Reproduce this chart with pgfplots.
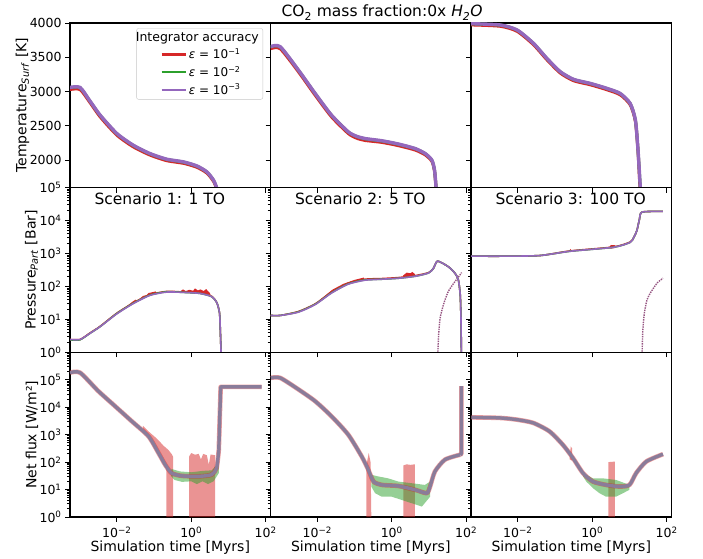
\documentclass[border=0pt]{standalone}
\usepackage{fontspec}
\setmainfont{DejaVu Sans}
\usepackage{pgfplots}
\pgfplotsset{compat=1.18}

\definecolor{tred}{HTML}{D62728}
\definecolor{tgreen}{HTML}{2CA02C}
\definecolor{tpurple}{HTML}{9467BD}
\definecolor{fluxline}{RGB}{138,124,154}
\definecolor{dotc}{RGB}{150,85,130}

% minor ticks of the log rows (data are given as log10 values)
\def\mlg#1{#1.301,#1.477,#1.602,#1.699,#1.778,#1.845,#1.903,#1.954}
\edef\minorlog{\mlg0,\mlg1,\mlg2,\mlg3,\mlg4,\mlg5}
\newcommand\tp[1]{10\textsuperscript{#1}}

\tikzset{scen/.style={anchor=base west, font=\fontsize{15.5}{18}\selectfont}}

\pgfplotsset{
  panel/.style={scale only axis, width=200.5pt, height=164.667pt, anchor=south west,
    xmin=-3.26, xmax=2.13, xtick={-2,0,2}, xticklabels={},
    tick pos=left, tick align=outside,
    major tick length=4.9pt, minor tick length=2.8pt,
    axis line style={line width=1.1pt, black},
    tick style={black, line width=0.9pt},
    ticklabel style={font=\fontsize{12.5}{14}\selectfont},
    xticklabel style={inner sep=1pt, yshift=-3.5pt},
    every axis x label/.style={at={(axis description cs:0.5,-0.183)}, anchor=center,
      inner sep=1pt, font=\fontsize{14}{16}\selectfont}},
  ylab/.style={every axis y label/.style={at={(axis description cs:#1,0.5)}, rotate=90,
      anchor=center, font=\fontsize{14}{16}\selectfont}},
  toprow/.style={ymin=1600, ymax=4000, ytick={2000,2500,3000,3500,4000}, yticklabels={}},
  logrow/.style={ymin=0, ymax=#1, ytick={0,...,#1}, minor ytick/.expanded={\minorlog}, yticklabels={}},
  botrow/.style={xticklabels={\tp{−2},\tp{0},\tp{2}}, xlabel={Simulation time [Myrs]}},
  tl/.style={line width=3pt, smooth, tension=0.4},
  pl/.style={line width=1.6pt, smooth, tension=0.4},
  redband/.style={draw=none, fill=tred, fill opacity=0.5, forget plot},
  greenband/.style={draw=none, fill=tgreen, fill opacity=0.5, forget plot},
  noise/.style={draw=none, fill=tred, forget plot},
  fluxr/.style={tred, opacity=0.45, line width=4.6pt, forget plot, line join=round},
  fluxm/.style={fluxline, line width=3.4pt, forget plot, line join=round},
  dots/.style={dotc, densely dotted, line width=1.4pt, smooth, tension=0.4, forget plot}
}

\begin{document}
\begin{tikzpicture}
\path[use as bounding box] (0pt,0pt) rectangle (703pt,558pt);

\node[anchor=base, font=\fontsize{15.5}{18}\selectfont] at (382pt,541pt)
  {CO\textsubscript{2} mass fraction:0x \textit{H\textsubscript{2}O}};

% ---------------- row 1: surface temperature ----------------
\begin{axis}[panel, toprow, at={(70pt,370.333pt)}, ylab=-0.237,
  yticklabels={2000,2500,3000,3500,4000},
  ylabel={Temperature\textsubscript{\textit{Surf}} [K]},
  legend style={at={(axis description cs:0.331,0.968)}, anchor=north west,
    draw=black!22, rounded corners=2pt, fill=white,
    font=\fontsize{12}{13.5}\selectfont, inner xsep=2pt, inner ysep=1.5pt, row sep=2pt},
  legend cell align=left,
  legend image code/.code={\draw[#1, line width=2.5pt] (23pt,0pt) -- (47pt,0pt);}]
\addlegendimage{empty legend}
\addlegendentry{\hspace{-53pt}\fontsize{12.5}{14}\selectfont Integrator accuracy}
\addplot[tred, tl] coordinates {(-3.26,3030)(-2.99,3030)(-2.72,2838)(-2.45,2632)(-2.0,2365)
  (-1.56,2195)(-1.11,2075)(-0.66,1993)(-0.21,1955)(0.15,1897)(0.42,1812)(0.6,1690)(0.69,1570)(0.71,1500)};
\addlegendentry{\textit{ε} = \tp{−1}}
\addplot[tgreen, tl] coordinates {(-3.26,3058)(-2.99,3058)(-2.72,2858)(-2.45,2654)(-2.0,2386)
  (-1.56,2216)(-1.11,2094)(-0.66,2012)(-0.21,1973)(0.15,1914)(0.42,1828)(0.6,1706)(0.69,1585)(0.72,1500)};
\addlegendentry{\textit{ε} = \tp{−2}}
\addplot[tpurple, tl, line width=3.4pt] coordinates {(-3.26,3061)(-2.99,3061)(-2.72,2861)(-2.45,2657)(-2.0,2389)
  (-1.56,2219)(-1.11,2097)(-0.66,2015)(-0.21,1976)(0.15,1917)(0.42,1830)(0.6,1708)(0.69,1586)(0.72,1500)};
\addlegendentry{\textit{ε} = \tp{−3}}
\end{axis}

\begin{axis}[panel, toprow, at={(270.5pt,370.333pt)}]
\addplot[tred, tl] coordinates {(-3.26,3625)(-3.0,3625)(-2.51,3289)(-2.06,2948)(-1.62,2632)(-1.17,2390)
  (-0.95,2322)(-0.72,2288)(-0.27,2260)(0.18,2212)(0.63,2148)(0.90,2077)(1.08,1982)(1.15,1836)(1.19,1600)(1.2,1500)};
\addplot[tgreen, tl] coordinates {(-3.26,3652)(-3.0,3652)(-2.51,3312)(-2.06,2971)(-1.62,2655)(-1.17,2412)
  (-0.95,2347)(-0.72,2312)(-0.27,2280)(0.18,2232)(0.63,2168)(0.90,2095)(1.08,1998)(1.15,1852)(1.19,1610)(1.21,1500)};
\addplot[tpurple, tl, line width=3.4pt] coordinates {(-3.26,3655)(-3.0,3655)(-2.51,3314)(-2.06,2973)(-1.62,2657)(-1.17,2414)
  (-0.95,2350)(-0.72,2316)(-0.27,2284)(0.18,2236)(0.63,2170)(0.90,2097)(1.08,2000)(1.15,1854)(1.19,1611)(1.21,1500)};
\end{axis}

\begin{axis}[panel, toprow, at={(471pt,370.333pt)}]
\addplot[tred, tl] coordinates {(-3.26,3972)(-2.47,3952)(-2.02,3878)(-1.58,3683)(-1.22,3464)(-0.86,3270)
  (-0.50,3158)(-0.05,3099)(0.40,3026)(0.75,2953)(1.02,2807)(1.16,2564)(1.23,2126)(1.28,1611)(1.29,1500)};
\addplot[tgreen, tl] coordinates {(-3.26,3988)(-2.47,3969)(-2.02,3896)(-1.58,3701)(-1.22,3482)(-0.86,3288)
  (-0.50,3176)(-0.05,3117)(0.40,3044)(0.75,2971)(1.02,2825)(1.16,2582)(1.23,2144)(1.29,1611)(1.30,1500)};
\addplot[tpurple, tl, line width=3.4pt] coordinates {(-3.26,3990)(-2.47,3971)(-2.02,3898)(-1.58,3703)(-1.22,3484)(-0.86,3290)
  (-0.50,3178)(-0.05,3119)(0.40,3046)(0.75,2973)(1.02,2827)(1.16,2584)(1.23,2146)(1.29,1611)(1.30,1500)};
\end{axis}

% ---------------- row 2: partial pressure ----------------
\begin{axis}[panel, logrow=5, at={(70pt,205.667pt)}, ylab=-0.192,
  yticklabels={\tp{0},\tp{1},\tp{2},\tp{3},\tp{4},\tp{5}},
  ylabel={Pressure\textsubscript{\textit{Part}} [Bar]}]
\node[scen] at (rel axis cs:0.105,0.895) {Scenario 1: 1 TO};
\addplot[tred, pl] coordinates {(-3.26,0.39)(-2.99,0.39)(-2.72,0.59)(-2.45,0.79)(-2.0,1.19)(-1.56,1.5)(-1.11,1.75)
  (-0.66,1.85)(-0.21,1.83)(0.23,1.80)(0.55,1.70)(0.69,1.5)(0.76,1.19)(0.78,0.69)(0.80,0)(0.80,-0.5)};
\addplot[noise] coordinates {(-1.75,1.38)(-1.6,1.52)(-1.5,1.6)(-1.45,1.57)(-1.3,1.71)(-1.2,1.74)(-1.15,1.8)(-0.95,1.85)
  (-0.95,1.79)(-1.15,1.73)(-1.3,1.64)(-1.45,1.56)(-1.6,1.47)(-1.75,1.35)} -- cycle;
\addplot[noise] coordinates {(-0.3,1.85)(-0.22,1.91)(-0.15,1.86)(-0.05,1.9)(0.05,1.87)(0.1,1.94)(0.18,1.88)
  (0.25,1.91)(0.33,1.86)(0.4,1.92)(0.5,1.8)
  (0.52,1.74)(0.4,1.77)(0.2,1.8)(0,1.82)(-0.3,1.82)} -- cycle;
\addplot[tgreen, pl] coordinates {(-3.26,0.38)(-2.99,0.38)(-2.72,0.58)(-2.45,0.78)(-2.0,1.18)(-1.56,1.49)(-1.11,1.74)
  (-0.66,1.84)(-0.21,1.82)(0.23,1.79)(0.55,1.69)(0.69,1.5)(0.76,1.19)(0.78,0.69)(0.80,0)(0.80,-0.5)};
\addplot[tpurple, pl] coordinates {(-3.26,0.39)(-2.99,0.39)(-2.72,0.58)(-2.45,0.78)(-2.0,1.17)(-1.56,1.48)(-1.11,1.73)
  (-0.66,1.83)(-0.21,1.82)(0.23,1.79)(0.55,1.69)(0.69,1.5)(0.76,1.19)(0.78,0.69)(0.80,0)(0.80,-0.5)};
\end{axis}

\begin{axis}[panel, logrow=5, at={(270.5pt,205.667pt)}]
\node[scen] at (rel axis cs:0.105,0.895) {Scenario 2: 5 TO};
\addplot[dots] coordinates {(1.24,-0.2)(1.24,0)(1.26,0.54)(1.30,1.04)(1.39,1.45)(1.52,1.85)(1.70,2.15)(1.88,2.42)};
\addplot[tred, pl] coordinates {(-3.26,1.12)(-3.0,1.12)(-2.51,1.24)(-2.06,1.47)(-1.62,1.83)(-1.17,2.1)(-0.72,2.22)
  (-0.27,2.24)(0.18,2.27)(0.63,2.33)(0.99,2.42)(1.12,2.55)(1.23,2.77)(1.52,2.6)(1.70,2.4)(1.79,2.2)
  (1.84,1.75)(1.86,1.04)(1.87,0)(1.87,-0.5)};
\addplot[noise] coordinates {(-1.9,1.62)(-1.6,1.9)(-1.3,2.08)(-1.0,2.2)(-0.75,2.27)
  (-0.75,2.21)(-1.0,2.14)(-1.3,2.0)(-1.6,1.82)(-1.9,1.56)} -- cycle;
\addplot[noise] coordinates {(0.3,2.33)(0.4,2.42)(0.5,2.4)(0.55,2.44)(0.62,2.38)(0.62,2.31)(0.45,2.29)(0.3,2.28)} -- cycle;
\addplot[tgreen, pl] coordinates {(-3.26,1.12)(-3.0,1.12)(-2.51,1.23)(-2.06,1.46)(-1.62,1.81)(-1.17,2.08)(-0.72,2.2)
  (-0.27,2.22)(0.18,2.25)(0.63,2.31)(0.99,2.41)(1.12,2.55)(1.23,2.77)(1.52,2.6)(1.70,2.4)(1.79,2.2)
  (1.84,1.75)(1.86,1.04)(1.87,0)(1.87,-0.5)};
\addplot[tpurple, pl] coordinates {(-3.26,1.12)(-3.0,1.12)(-2.51,1.22)(-2.06,1.45)(-1.62,1.8)(-1.17,2.07)(-0.72,2.19)
  (-0.27,2.22)(0.18,2.25)(0.63,2.31)(0.99,2.41)(1.12,2.55)(1.23,2.77)(1.52,2.6)(1.70,2.4)(1.79,2.2)
  (1.84,1.75)(1.86,1.04)(1.87,0)(1.87,-0.5)};
\end{axis}

\begin{axis}[panel, logrow=5, at={(471pt,205.667pt)}]
\node[scen] at (rel axis cs:0.105,0.895) {Scenario 3: 100 TO};
\addplot[dots] coordinates {(1.34,-0.2)(1.34,0.01)(1.36,0.69)(1.40,1.19)(1.47,1.59)(1.56,1.8)(1.74,2.1)(1.90,2.25)};
\addplot[tred, pl] coordinates {(-3.26,2.92)(-2.29,2.92)(-1.40,2.94)(-0.59,3.08)(0.57,3.2)(1.02,3.35)
  (1.12,3.5)(1.2,3.7)(1.27,4.05)(1.34,4.26)(1.9,4.28)};
\addplot[noise] coordinates {(0.45,3.18)(0.5,3.26)(0.62,3.25)(0.62,3.17)(0.5,3.15)} -- cycle;
\addplot[noise] coordinates {(-0.63,3.05)(-0.59,3.14)(-0.55,3.06)} -- cycle;
\addplot[tgreen, pl] coordinates {(-3.26,2.92)(-2.29,2.92)(-1.40,2.94)(-0.59,3.07)(0.57,3.19)(1.02,3.34)
  (1.12,3.5)(1.2,3.7)(1.27,4.05)(1.34,4.26)(1.9,4.28)};
\addplot[tpurple, pl] coordinates {(-3.26,2.92)(-2.29,2.92)(-1.40,2.94)(-0.59,3.07)(0.57,3.19)(1.02,3.34)
  (1.12,3.5)(1.2,3.7)(1.27,4.05)(1.34,4.26)(1.9,4.28)};
\end{axis}

% ---------------- row 3: net flux ----------------
\begin{axis}[panel, logrow=6, botrow, at={(70pt,41pt)}, ylab=-0.19,
  yticklabels={\tp{0},\tp{1},\tp{2},\tp{3},\tp{4},\tp{5},{}},
  ylabel={Net flux [W/m²]}]
\addplot[redband] coordinates {(-1.3,3.32)(-1.15,3.12)(-0.97,2.91)(-0.85,2.75)(-0.75,2.6)(-0.62,2.45)
  (-0.53,2.3)(-0.49,2.2)(-0.49,0)(-0.67,0)(-0.67,1.75)(-0.75,2.05)(-0.88,2.3)(-1.0,2.6)(-1.15,2.9)(-1.3,3.2)} -- cycle;
\addplot[redband] coordinates {(-0.06,0)(-0.06,2.2)(0,2.33)(0.1,2.27)(0.2,2.3)(0.26,2.1)(0.32,2.3)
  (0.42,2.25)(0.47,1.9)(0.52,2.28)(0.64,2.25)(0.64,0)} -- cycle;
\addplot[greenband] coordinates {(-0.53,1.75)(-0.3,1.66)(0,1.63)(0.3,1.68)(0.55,1.7)(0.68,1.9)(0.74,2.3)
  (0.74,1.6)(0.6,1.3)(0.45,1.2)(0.3,1.3)(0.15,1.2)(0,1.3)(-0.25,1.28)(-0.45,1.35)(-0.55,1.5)} -- cycle;
\addplot[fluxr, smooth, tension=0.4] coordinates {(-3.26,5.26)(-2.99,5.26)(-2.50,4.59)(-2.05,4.04)(-1.60,3.49)(-1.15,2.94)(-0.88,2.33)
  (-0.70,1.90)(-0.53,1.6)(-0.26,1.5)(0.18,1.48)(0.54,1.54)(0.68,1.78)(0.74,2.45)};
\addplot[fluxr] coordinates {(0.74,2.45)(0.79,4.74)(1.89,4.74)};
\addplot[fluxm, smooth, tension=0.4] coordinates {(-3.26,5.26)(-2.99,5.26)(-2.50,4.59)(-2.05,4.04)(-1.60,3.49)(-1.15,2.94)(-0.88,2.33)
  (-0.70,1.90)(-0.53,1.6)(-0.26,1.5)(0.18,1.48)(0.54,1.54)(0.68,1.78)(0.74,2.45)};
\addplot[fluxm] coordinates {(0.74,2.45)(0.79,4.74)(1.89,4.74)};
\end{axis}

\begin{axis}[panel, logrow=6, botrow, at={(270.5pt,41pt)}]
\addplot[redband] coordinates {(-0.68,0)(-0.68,1.9)(-0.62,2.33)(-0.57,2.0)(-0.55,0)} -- cycle;
\addplot[redband] coordinates {(0.31,0)(0.31,1.88)(0.4,1.92)(0.5,1.9)(0.62,1.92)(0.62,0)} -- cycle;
\addplot[greenband] coordinates {(-0.55,1.54)(-0.37,1.48)(-0.10,1.41)(0.18,1.29)(0.54,1.23)(0.89,1.17)(1.03,1.29)
  (1.03,0.74)(0.81,0.38)(0.54,0.5)(0.27,0.62)(0.0,0.74)(-0.27,0.74)(-0.45,0.87)(-0.55,1.11)} -- cycle;
\addplot[fluxr, smooth, tension=0.4] coordinates {(-3.25,5.07)(-3.0,5.07)(-2.51,4.65)(-2.06,4.22)(-1.62,3.67)(-1.17,3.0)(-0.81,2.21)
  (-0.63,1.72)(-0.49,1.29)(-0.27,1.17)(0.18,1.13)(0.63,0.99)(0.94,0.87)(1.03,1.11)(1.16,1.66)(1.43,2.09)
  (1.84,2.27)};
\addplot[fluxr] coordinates {(1.84,2.27)(1.87,2.3)(1.87,4.77)};
\addplot[fluxm, smooth, tension=0.4] coordinates {(-3.25,5.07)(-3.0,5.07)(-2.51,4.65)(-2.06,4.22)(-1.62,3.67)(-1.17,3.0)(-0.81,2.21)
  (-0.63,1.72)(-0.49,1.29)(-0.27,1.17)(0.18,1.13)(0.63,0.99)(0.94,0.87)(1.03,1.11)(1.16,1.66)(1.43,2.09)
  (1.84,2.27)};
\addplot[fluxm] coordinates {(1.84,2.27)(1.87,2.3)(1.87,4.77)};
\end{axis}

\begin{axis}[panel, logrow=6, botrow, at={(471pt,41pt)}]
\addplot[redband] coordinates {(-0.61,2.1)(-0.58,2.57)(-0.54,2.5)(-0.54,2.05)} -- cycle;
\addplot[redband] coordinates {(0.43,0)(0.43,2.0)(0.61,2.02)(0.61,0)} -- cycle;
\addplot[greenband] coordinates {(-0.25,1.6)(0.02,1.41)(0.28,1.41)(0.64,1.35)(1.0,1.17)
  (1.0,0.99)(0.64,0.74)(0.37,0.74)(0.19,0.87)(0.02,1.05)(-0.16,1.29)(-0.25,1.48)} -- cycle;
\addplot[fluxr, smooth, tension=0.4] coordinates {(-3.25,3.63)(-2.48,3.61)(-2.04,3.55)(-1.59,3.43)(-1.15,3.12)(-0.79,2.63)(-0.52,2.15)
  (-0.25,1.6)(0.02,1.29)(0.37,1.17)(0.73,1.11)(1.0,1.17)(1.18,1.6)(1.45,2.02)(1.9,2.29)};
\addplot[fluxm, smooth, tension=0.4] coordinates {(-3.25,3.63)(-2.48,3.61)(-2.04,3.55)(-1.59,3.43)(-1.15,3.12)(-0.79,2.63)(-0.52,2.15)
  (-0.25,1.6)(0.02,1.29)(0.37,1.17)(0.73,1.11)(1.0,1.17)(1.18,1.6)(1.45,2.02)(1.9,2.29)};
\end{axis}
\end{tikzpicture}
\end{document}
